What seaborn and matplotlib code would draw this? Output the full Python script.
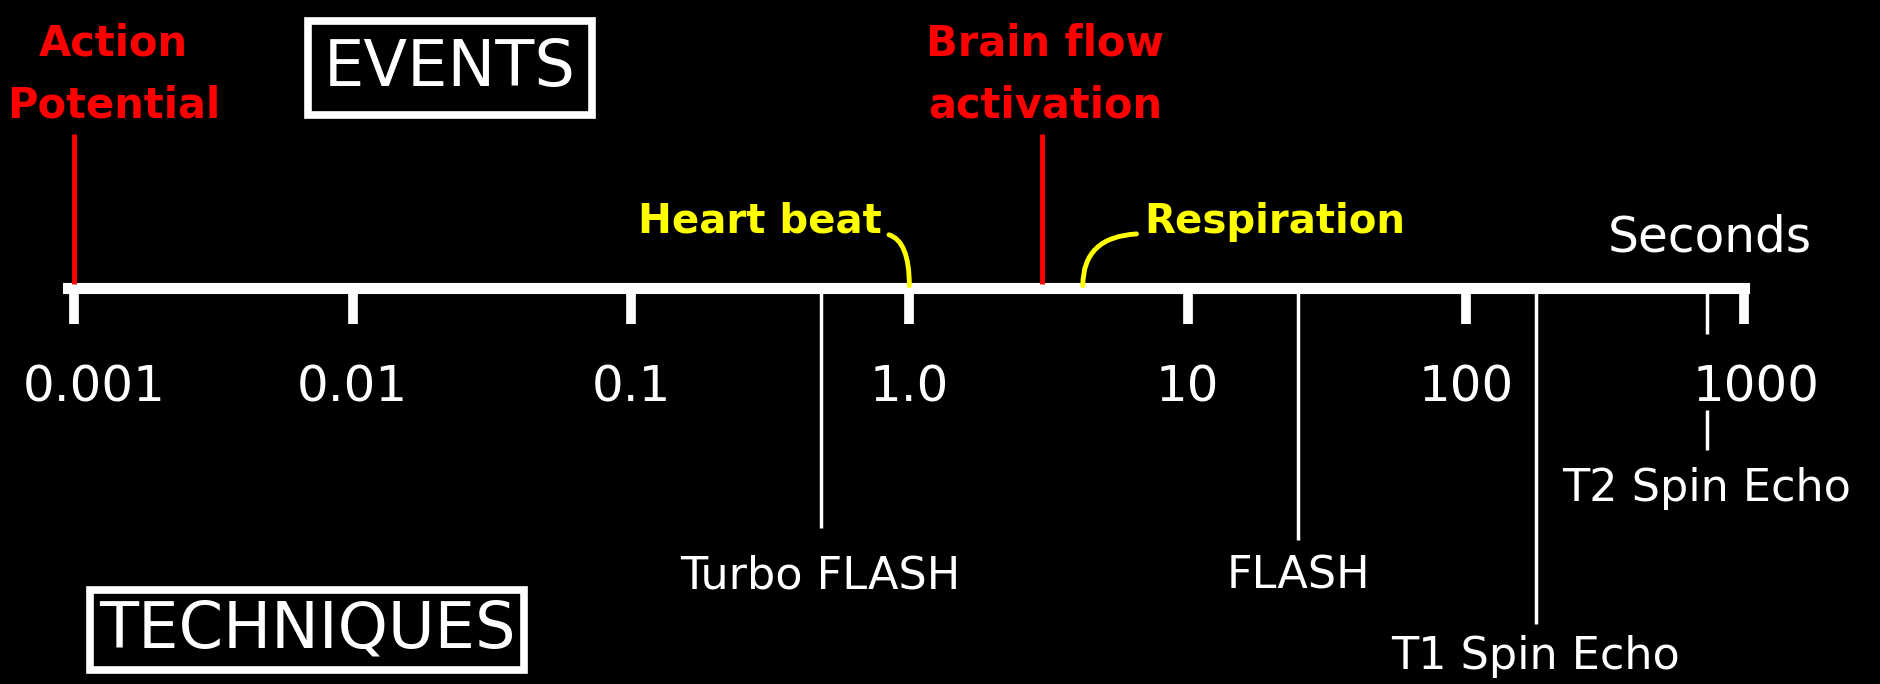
import matplotlib.pyplot as plt
from matplotlib.ticker import FixedLocator, NullLocator
from matplotlib.transforms import ScaledTranslation
import seaborn as sns

# time axis (seconds, log scale)
tick_values = [0.001, 0.01, 0.1, 1.0, 10, 100, 1000]
tick_labels = ["0.001", "0.01", "0.1", "1.0", "10", "100", "1000"]

# events above the axis
event_names = ["Action\nPotential", "Brain flow\nactivation"]
event_times = [0.001, 3.0]

cycle_names = ["Heart beat", "Respiration"]
cycle_times = [1.0, 4.2]

# imaging techniques below the axis
technique_names = ["Turbo FLASH", "FLASH", "T1 Spin Echo", "T2 Spin Echo"]
technique_times = [0.48, 25, 178, 735]

sns.set_theme(style="dark", rc={"axes.facecolor": "black",
                                "figure.facecolor": "black",
                                "axes.edgecolor": "white",
                                "text.color": "white",
                                "xtick.color": "white"})
plt.rcParams['font.family'] = ['DejaVu Sans']

fig = plt.figure(figsize=(18.81, 6.84), dpi=100)
ax = fig.add_axes([0, 0, 1, 1])
ax.set_xscale('log')
ax.set_xlim(5.4e-4, 3100)
ax.set_ylim(570, 0)   # y in layout units, top = 0
axis_y = 240

for s in ["left", "right", "top"]:
    ax.spines[s].set_visible(False)
ax.spines["bottom"].set_position(("data", axis_y))
ax.spines["bottom"].set_bounds(0.00095, 1000)
ax.spines["bottom"].set_linewidth(8)
ax.spines["bottom"].set_color("white")
ax.xaxis.set_major_locator(FixedLocator(tick_values))
ax.xaxis.set_minor_locator(NullLocator())
ax.set_xticklabels(tick_labels)
ax.tick_params(axis="x", bottom=True, direction="out", length=26, width=7,
               color="white", labelcolor="white", labelsize=36, pad=28)
ax.set_yticks([])

# first and last labels sit a bit right of their ticks
lbls = ax.get_xticklabels()
for lb, dx in [(lbls[0], 0.2), (lbls[-1], 0.12)]:
    lb.set_transform(lb.get_transform() + ScaledTranslation(dx, 0, fig.dpi_scale_trans))

# red events
ax.vlines(event_times, 112, axis_y - 3, color="#ff0000", lw=3.5, zorder=3)
event_offsets = [(28, 6), (2, 6)]
for name, t, off in zip(event_names, event_times, event_offsets):
    ax.annotate(name, xy=(t, 112), xytext=off, textcoords="offset points",
                ha="center", va="bottom", color="#ff0000", fontsize=30,
                fontweight="bold", linespacing=1.6)

# yellow cycles with hooked connectors
cycle_offsets = [(-20, 46), (44, 46)]
cycle_ha = ["right", "left"]
cycle_rel = [(1, 0.2), (0, 0.2)]
for name, t, off, ha, rp in zip(cycle_names, cycle_times, cycle_offsets, cycle_ha, cycle_rel):
    ax.annotate(name, xy=(t, axis_y - 2), xytext=off, textcoords="offset points",
                ha=ha, va="center", color="#ffff00", fontsize=29,
                fontweight="bold",
                arrowprops=dict(arrowstyle="-", color="#ffff00", lw=3.5,
                                relpos=rp, shrinkA=3, shrinkB=0,
                                connectionstyle="angle3,angleA=0,angleB=90"))

# techniques
line_ends = [440, 450, 520, 278]
label_y = [480, 480, 547, 407]
ax.vlines(technique_times, axis_y, line_ends, color="white", lw=2.5)
ax.vlines(technique_times[-1], 342, 375, color="white", lw=2.5)
for name, t, ly in zip(technique_names, technique_times, label_y):
    ax.text(t, ly, name, ha="center", va="center", color="white", fontsize=32)

ax.text(1425 / 1568, 1 - 198 / 570, "Seconds", transform=ax.transAxes,
        ha="center", va="center", color="white", fontsize=35)

ax.text(375 / 1568, 1 - 57 / 570, "EVENTS", transform=ax.transAxes,
        ha="center", va="center", color="white", fontsize=46,
        bbox=dict(boxstyle="square,pad=0.25", fc="black", ec="white", lw=5.5))
ax.text(256 / 1568, 1 - 525 / 570, "TECHNIQUES", transform=ax.transAxes,
        ha="center", va="center", color="white", fontsize=46,
        bbox=dict(boxstyle="square,pad=0.14", fc="black", ec="white", lw=5.5))

fig.savefig("out.png", dpi=100, facecolor="black")
